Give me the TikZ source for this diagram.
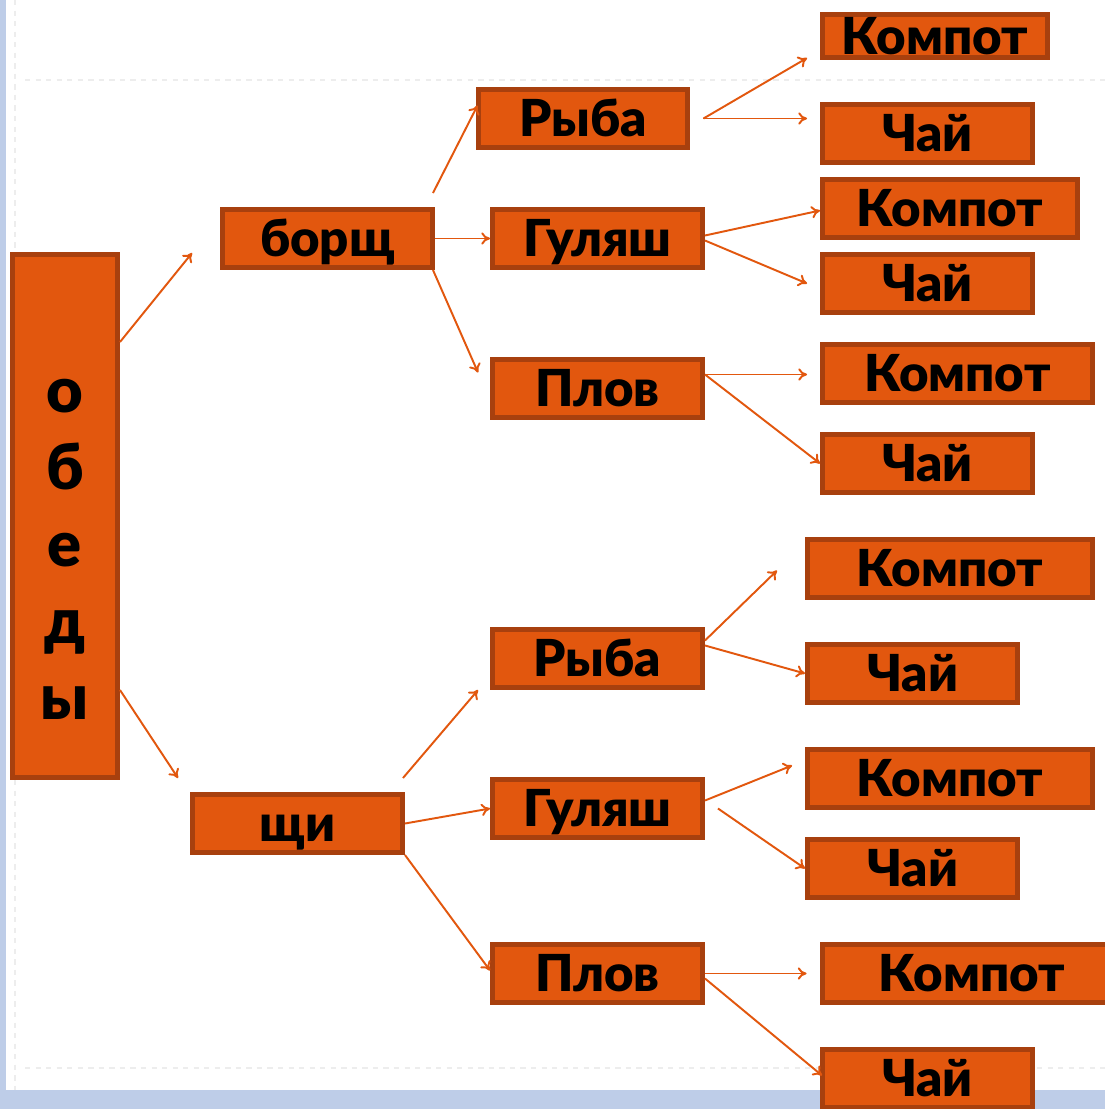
\documentclass[tikz,border=0pt]{standalone}
\usepackage{fontspec}
\setmainfont{Lato}[BoldFont={* Black}]
\usetikzlibrary{arrows.meta}
\definecolor{boxfill}{RGB}{226,87,14}
\definecolor{boxedge}{RGB}{168,64,14}
\definecolor{frameblue}{RGB}{190,205,232}
\tikzset{
  dish/.style={draw=boxedge, fill=boxfill, line width=0.1cm, inner sep=0pt,
    minimum width=4.2cm, minimum height=1.16cm, text height=21pt, text depth=0pt,
    font=\fontsize{29}{34}\selectfont\bfseries},
  link/.style={draw=boxfill, line width=1.1pt, -{To[length=5pt,width=7pt]}}
}
\begin{document}
\begin{tikzpicture}[x=0.02cm, y=-0.02cm]
  \useasboundingbox (0,0) rectangle (1105,1109);
  \clip (0,0) rectangle (1105,1109);

  % Draw the slide background
  \fill[white] (0,0) rectangle (1105,1109);
  \fill[frameblue] (0,0) rectangle (6,1109);
  \fill[frameblue] (0,1090) rectangle (1105,1109);
  \draw[black!7, dashed, line width=1pt] (25,80) -- (1105,80);
  \draw[black!7, dashed, line width=1pt] (25,1068) -- (1105,1068);
  \draw[black!7, dashed, line width=1pt] (15,0) -- (15,1090);

  % Draw the boxes
  \node[dish, minimum width=2.1cm, minimum height=10.46cm, text height=, text depth=,
        align=center, font=\fontsize{36}{43.8}\selectfont\bfseries]
        (obedy) at (65,516) {\rule{0pt}{57pt}о\\б\\е\\д\\ы};
  \node[dish] (borsch) at (327.5,238.5) {борщ};
  \node[dish] (shchi) at (297.5,823.5) {щи};

  \node[dish] (ryba1) at (583,118.5) {Рыба};
  \node[dish] (gulyash1) at (597.5,238.5) {Гуляш};
  \node[dish] (plov1) at (597.5,388.5) {Плов};
  \node[dish] (ryba2) at (597.5,658.5) {Рыба};
  \node[dish] (gulyash2) at (597.5,808.5) {Гуляш};
  \node[dish] (plov2) at (597.5,973.5) {Плов};

  \node[dish, minimum width=4.5cm, minimum height=0.86cm] (kompot1) at (935,36) {Компот};
  \node[dish] (chai1) at (927.5,133.5) {Чай};
  \node[dish, minimum width=5.1cm] (kompot2) at (950,208.5) {Компот};
  \node[dish] (chai2) at (927.5,283.5) {Чай};
  \node[dish, minimum width=5.4cm] (kompot3) at (957.5,373.5) {Компот};
  \node[dish] (chai3) at (927.5,463.5) {Чай};
  \node[dish, minimum width=5.7cm] (kompot4) at (950,568.5) {Компот};
  \node[dish] (chai4) at (912.5,673.5) {Чай};
  \node[dish, minimum width=5.7cm] (kompot5) at (950,778.5) {Компот};
  \node[dish] (chai5) at (912.5,868.5) {Чай};
  \node[dish, minimum width=6cm] (kompot6) at (972,973.5) {Компот};
  \node[dish] (chai6) at (927.5,1078.5) {Чай};

  % Draw the arrows from the first column
  \draw[link] ([shift={(0,-174)}]obedy.east) -- ([shift={(-28,-17)}]borsch.south west);
  \draw[link] ([shift={(0,174)}]obedy.east) -- ([shift={(-12,-14)}]shchi.north west);

  % Draw the arrows from the soups
  \draw[link] ([shift={(-2,-14)}]borsch.north east) -- ([shift={(2,-13)}]ryba1.west);
  \draw[link] (borsch.east) -- (gulyash1.west);
  \draw[link] ([shift={(-2,0)}]borsch.south east) -- ([shift={(-12,-16)}]plov1.west);
  \draw[link] ([shift={(-2,-14)}]shchi.north east) -- ([shift={(-12,0)}]ryba2.south west);
  \draw[link] (shchi.east) -- (gulyash2.west);
  \draw[link] (shchi.south east) -- ([shift={(0,-3)}]plov2.west);

  % Draw the arrows to the drinks
  \draw[link] ([shift={(13,0)}]ryba1.east) -- ([shift={(-13,-2)}]kompot1.south west);
  \draw[link] ([shift={(13,0)}]ryba1.east) -- ([shift={(-13,-15)}]chai1.west);
  \draw[link] ([shift={(0,-3)}]gulyash1.east) -- ([shift={(0,2)}]kompot2.west);
  \draw[link] ([shift={(0,2)}]gulyash1.east) -- ([shift={(-13,0)}]chai2.west);
  \draw[link] ([shift={(0,-14)}]plov1.east) -- ([shift={(-13,1)}]kompot3.west);
  \draw[link] ([shift={(0,-14)}]plov1.east) -- (chai3.west);
  \draw[link] ([shift={(0,-18)}]ryba2.east) -- ([shift={(-28,2)}]kompot4.west);
  \draw[link] ([shift={(0,-13)}]ryba2.east) -- (chai4.west);
  \draw[link] ([shift={(0,-8)}]gulyash2.east) -- ([shift={(-13,-13)}]kompot5.west);
  \draw[link] ([shift={(13,0)}]gulyash2.east) -- (chai5.west);
  \draw[link] (plov2.east) -- ([shift={(-13,0)}]kompot6.west);
  \draw[link] ([shift={(0,5)}]plov2.east) -- ([shift={(2,-3)}]chai6.west);
\end{tikzpicture}
\end{document}
